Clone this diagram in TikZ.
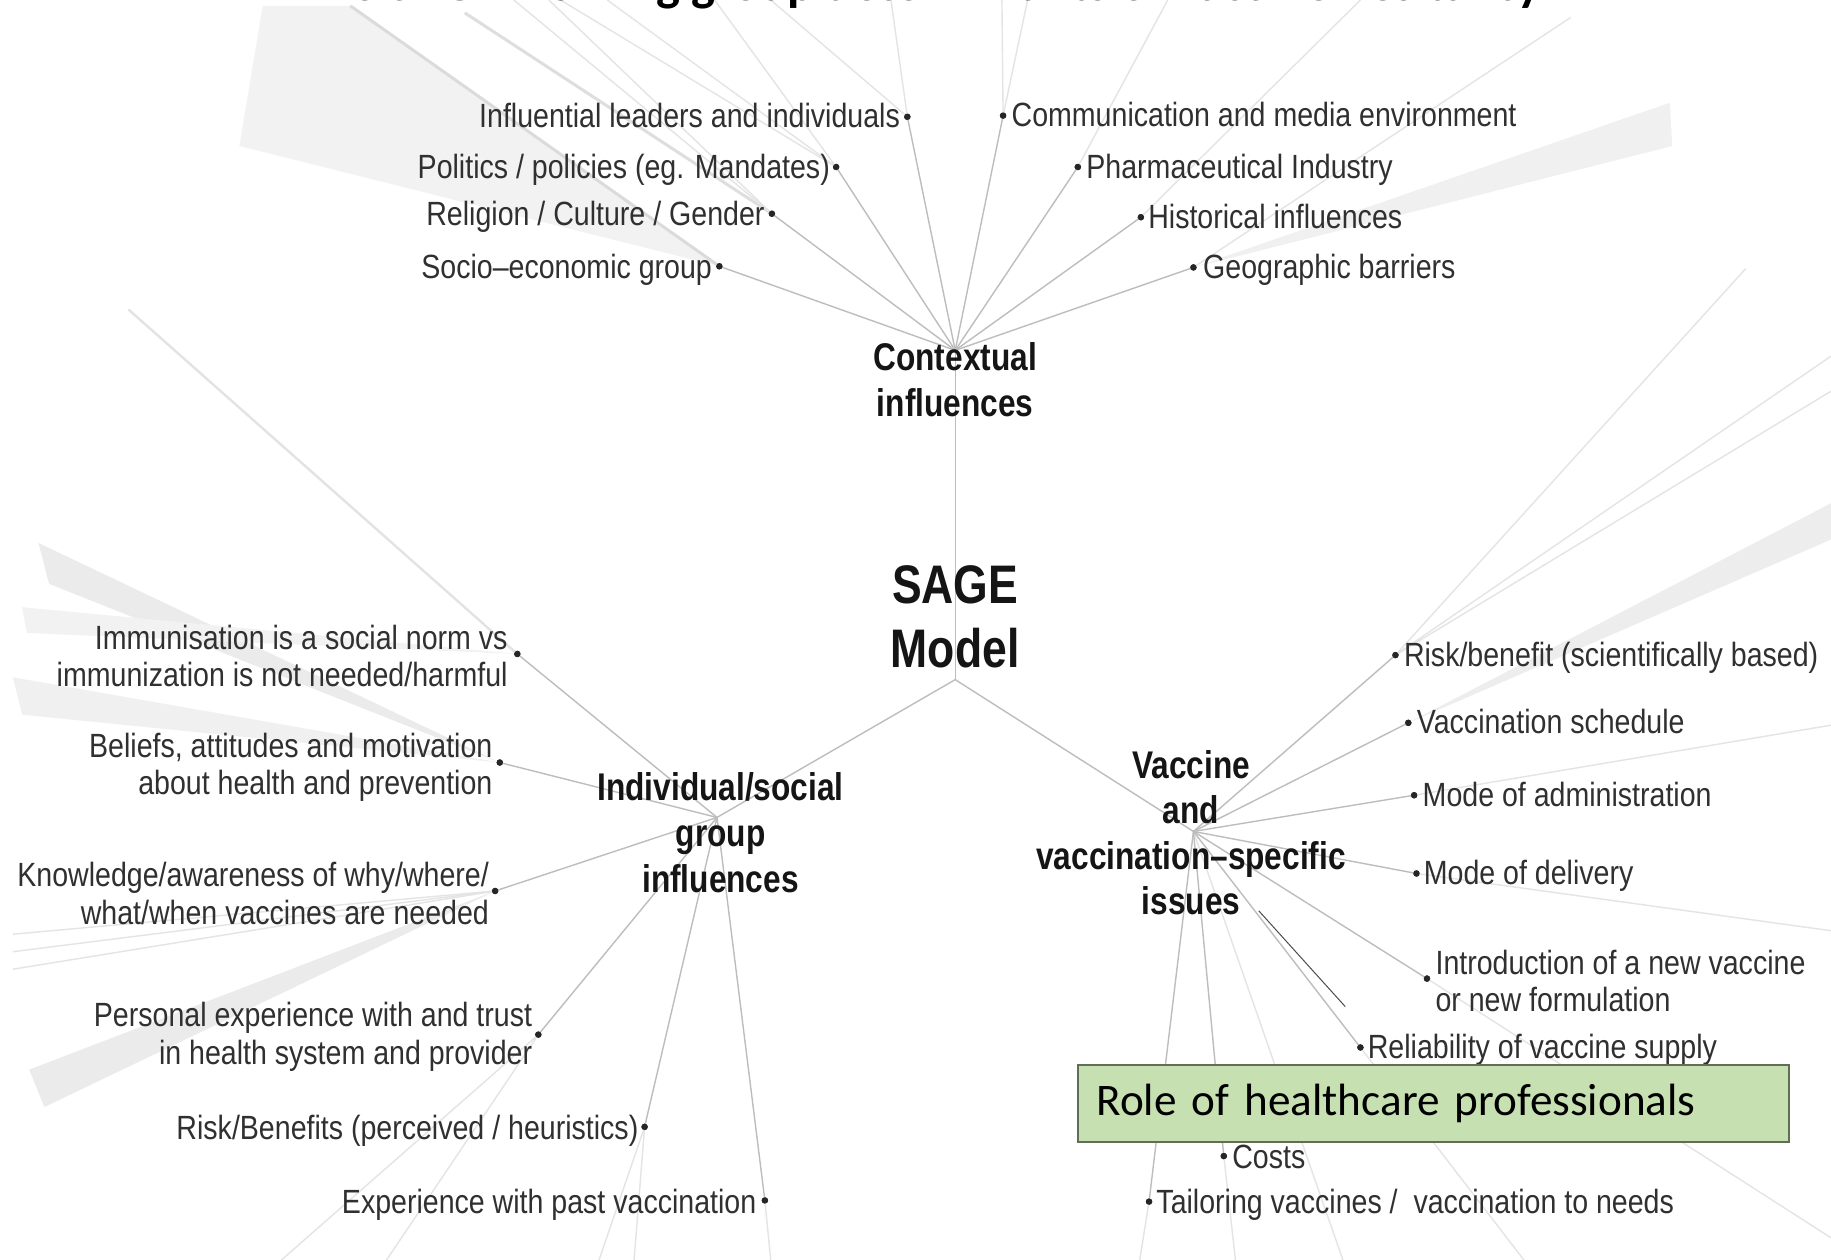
\documentclass[tikz,border=0pt]{standalone}
\usepackage{fontspec}
\newfontfamily\labfont[FakeStretch=0.85]{Liberation Sans}
\newfontfamily\catfont[FakeStretch=0.82]{Liberation Sans}
\newfontfamily\calfont{Carlito}
\definecolor{labc}{HTML}{303030}
\definecolor{catc}{HTML}{151515}
\definecolor{brc}{HTML}{BDBDBD}
\definecolor{fadec}{HTML}{E4E4E4}
\definecolor{boxfill}{RGB}{198,224,178}
\definecolor{boxdraw}{RGB}{95,110,85}
\begin{document}
\begin{tikzpicture}[x=0.5839pt,y=-0.5839pt,
  lab/.style={font=\labfont\fontsize{16.8pt}{18.7pt}\selectfont, text=labc, inner sep=0pt},
  labL/.style={lab, anchor=mid east, yshift=-3.4pt},
  labR/.style={lab, anchor=mid west, yshift=-3.4pt},
  labML/.style={lab, anchor=east, align=right},
  labMR/.style={lab, anchor=west, align=left},
  cat/.style={font=\catfont\bfseries\fontsize{19.3pt}{22.8pt}\selectfont, text=catc, align=center, inner sep=0pt},
  dot/.style={circle, fill=black!85, inner sep=0pt, minimum size=3.2pt},
  br/.style={draw=brc, line width=0.7pt},
  fade/.style={draw=fadec, line width=0.7pt},
  rolebox/.style={draw=boxdraw, fill=boxfill, line width=1.2pt, minimum width=355.6pt, minimum height=38.5pt, text width=337pt, align=left, inner xsep=8.8pt, inner ysep=0pt, font=\calfont\fontsize{22.6pt}{27pt}\selectfont, text=black}
]
\useasboundingbox (0,0) rectangle (1568,1079);
\clip (0,0) rectangle (1568,1079);
\fill[white] (0,0) rectangle (1568,1079);

% hubs
\coordinate (hc) at (818,300);
\coordinate (hs) at (818,582);
\coordinate (hi) at (614,700);
\coordinate (hv) at (1022,712);

% bullets
\node[dot] (c1) at (777,100) {};
\node[dot] (c2) at (716,143) {};
\node[dot] (c3) at (661,183) {};
\node[dot] (c4) at (616,228) {};
\node[dot] (c5) at (859,99) {};
\node[dot] (c6) at (923,143) {};
\node[dot] (c7) at (977,186) {};
\node[dot] (c8) at (1022,229) {};
\node[dot] (i1) at (443,560) {};
\node[dot] (i2) at (428,653) {};
\node[dot] (i3) at (424,763) {};
\node[dot] (i4) at (461,886) {};
\node[dot] (i5) at (552,965) {};
\node[dot] (i6) at (655,1028) {};
\node[dot] (v1) at (1195,561) {};
\node[dot] (v2) at (1206,619) {};
\node[dot] (v3) at (1211,681) {};
\node[dot] (v4) at (1213,748) {};
\node[dot] (v5) at (1222,838) {};
\node[dot] (v6) at (1165,897) {};
\node[dot] (v7) at (1048,990) {};
\node[dot] (v8) at (984,1029) {};

% outer faded sub-branches
\fill[black!5] (c4.center) -- (205,125) -- (225,5) -- (300,5) -- cycle;
\draw[black!14, line width=1.5pt] (c4.center) -- (300,5);
\fill[black!6] (c8.center) -- (1430,88) -- (1432,125) -- cycle;
\fill[black!8] (i2.center) -- (33,465) -- (42,500) -- cycle;
\fill[black!6] (i2.center) -- (11,580) -- (19,612) -- cycle;
\fill[black!5] (i1.center) -- (19,520) -- (23,542) -- cycle;
\fill[black!8] (i3.center) -- (25,916) -- (38,948) -- cycle;
\fill[black!7] (v2.center) -- (1568,431) -- (1568,462) -- cycle;
\draw[black!11, line width=1.2pt] (i1.center) -- (110,265);
\draw[black!13, line width=1.5pt] (c3.center) -- (398,11);
\draw[fade] (c1.center) -- (763,0);
\draw[fade] (c1.center) -- (660,0);
\draw[fade] (c2.center) -- (612,0);
\draw[fade] (c2.center) -- (520,0);
\draw[fade] (c2.center) -- (480,0);
\draw[fade] (c3.center) -- (470,0);
\draw[fade] (c3.center) -- (440,0);
\draw[fade] (c5.center) -- (858,0);
\draw[fade] (c5.center) -- (880,0);
\draw[fade] (c6.center) -- (1000,0);
\draw[fade] (c7.center) -- (1165,0);
\draw[fade] (c8.center) -- (1345,15);
\draw[fade] (i3.center) -- (11,800);
\draw[fade] (i3.center) -- (11,815);
\draw[fade] (i3.center) -- (11,830);
\draw[fade] (i4.center) -- (241,1079);
\draw[fade] (i4.center) -- (331,1079);
\draw[fade] (i5.center) -- (513,1079);
\draw[fade] (i5.center) -- (543,1079);
\draw[fade] (i6.center) -- (660,1079);
\draw[fade] (v1.center) -- (1495,230);
\draw[fade] (v1.center) -- (1568,305);
\draw[fade] (v1.center) -- (1568,335);
\draw[fade] (v3.center) -- (1568,621);
\draw[fade] (v4.center) -- (1568,797);
\draw[fade] (v5.center) -- (1568,1060);
\draw[fade] (v6.center) -- (1305,1079);
\draw[fade] (v7.center) -- (1058,1079);
\draw[fade] (v8.center) -- (976,1079);
\draw[fade] (hv) -- (1150,1079);

% main branches
\draw[br] (hs) -- (hc);
\draw[br] (hs) -- (hi);
\draw[br] (hs) -- (hv);
\foreach \b in {c1,c2,c3,c4,c5,c6,c7,c8} \draw[br] (hc) -- (\b.center);
\foreach \b in {i1,i2,i3,i4,i5,i6} \draw[br] (hi) -- (\b.center);
\foreach \b in {v1,v2,v3,v4,v5,v6,v7,v8} \draw[br] (hv) -- (\b.center);

% pointer line
\coordinate (p1) at (1078,780);
\coordinate (p2) at (1152,862);
\draw[black!70, line width=0.5pt] (p1) -- (p2);

% redraw bullets on top
\foreach \b in {c1,c2,c3,c4,c5,c6,c7,c8,i1,i2,i3,i4,i5,i6,v1,v2,v3,v4,v5,v6,v7,v8}
  \fill[black!85] (\b.center) circle (1.6pt);

% title (cut off at the top edge, as in the original)
\node[font=\calfont\bfseries\fontsize{25.3pt}{30pt}\selectfont, anchor=base, inner sep=0pt] (title) at (788,0) {The SAGE working group determinants of vaccine hesitancy};

% category labels
\node[cat] (ctx) at (818,325) {Contextual\\influences};
\node[cat] (ind) at (617,713) {Individual/social\\group\\influences};
\node[cat] (vac) at (1020,713) {Vaccine\\and\\vaccination–specific\\issues};
\node[font=\catfont\bfseries\fontsize{27.15pt}{32.1pt}\selectfont, text=catc, align=center, inner sep=0pt] (sage) at (818,528) {SAGE\\Model};

% contextual labels
\node[labL] (tc1) at (771,100) {Influential leaders and individuals};
\node[labL] (tc2) at (711,143) {Politics / policies (eg. Mandates)};
\node[labL] (tc3) at (655,184) {Religion / Culture / Gender};
\node[labL] (tc4) at (610,229) {Socio–economic group};
\node[labR] (tc5) at (866,99) {Communication and media environment};
\node[labR] (tc6) at (930,143) {Pharmaceutical Industry};
\node[labR] (tc7) at (983,186) {Historical influences};
\node[labR] (tc8) at (1030,229) {Geographic barriers};

% individual labels
\node[labML] (ti1) at (435,562) {Immunisation is a social norm vs\\immunization is not needed/harmful};
\node[labML] (ti2) at (422,657) {Beliefs, attitudes and motivation\\about health and prevention};
\node[labML] (ti3) at (419,765) {Knowledge/awareness of why/where/\\what/when vaccines are needed};
\node[labML] (ti4) at (456,888) {Personal experience with and trust\\in health system and provider};
\node[labL] (ti5) at (547,966) {Risk/Benefits (perceived / heuristics)};
\node[labL] (ti6) at (648,1030) {Experience with past vaccination};

% vaccine labels
\node[labR] (tv1) at (1202,561) {Risk/benefit (scientifically based)};
\node[labR] (tv2) at (1213,619) {Vaccination schedule};
\node[labR] (tv3) at (1218,681) {Mode of administration};
\node[labR] (tv4) at (1219,748) {Mode of delivery};
\node[labMR] (tv5) at (1229,840) {Introduction of a new vaccine\\or new formulation};
\node[labR] (tv6) at (1171,897) {Reliability of vaccine supply};
\node[labR] (tv7) at (1055,991) {Costs};
\node[labR] (tv8) at (990,1030) {Tailoring vaccines /~ vaccination to needs};

% role box
\node[rolebox, anchor=north west] (role) at (922,911) {Role of healthcare professionals};
\end{tikzpicture}
\end{document}
